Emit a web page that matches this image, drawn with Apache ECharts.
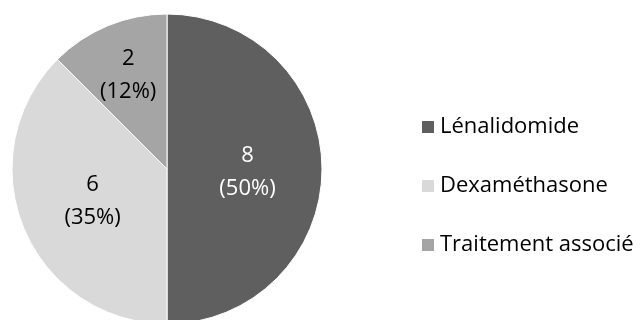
<!DOCTYPE html>
<html>
<head>
<meta charset="utf-8">
<script src="https://cdn.jsdelivr.net/npm/echarts@6/dist/echarts.min.js"></script>
<style>
  html, body { margin: 0; padding: 0; background: #fff; }
  #chart { width: 643px; height: 320px; }
</style>
</head>
<body>
<div id="chart"></div>
<script>
// Treatment breakdown: counts and the percentage captions printed on each slice
const categories = ['Lénalidomide', 'Dexaméthasone', 'Traitement associé'];
const counts = [8, 6, 2];
const percentLabels = ['50%', '35%', '12%'];
const sliceColors = ['#5f5f5f', '#d9d9d9', '#a5a5a5'];
const labelColors = ['#ffffff', '#000000', '#000000'];
const labelOffsets = [[0, 3], [0, 1], [-8, -19]];

const FONT = '"Open Sans", sans-serif';

const chart = echarts.init(document.getElementById('chart'), null, { renderer: 'canvas' });

const data = categories.map((name, i) => ({
  name: name,
  value: counts[i],
  itemStyle: { color: sliceColors[i] },
  label: {
    color: labelColors[i],
    offset: labelOffsets[i],
    formatter: counts[i] + '\n(' + percentLabels[i] + ')'
  }
}));

chart.setOption({
  animation: false,
  backgroundColor: '#ffffff',
  legend: {
    orient: 'vertical',
    left: 415,
    top: 111,
    itemWidth: 14,
    itemHeight: 14,
    itemGap: 37,
    icon: 'rect',
    selectedMode: false,
    textStyle: { fontFamily: FONT, fontSize: 22, lineHeight: 22, color: '#000000' },
    data: categories
  },
  series: [{
    type: 'pie',
    center: [167, 169],
    radius: [0, 155],
    startAngle: 90,
    clockwise: true,
    silent: true,
    itemStyle: { borderColor: '#ffffff', borderWidth: 1 },
    label: {
      show: true,
      position: 'inside',
      fontFamily: FONT,
      fontSize: 22,
      lineHeight: 33,
      align: 'center'
    },
    labelLine: { show: false },
    data: data
  }]
});
</script>
</body>
</html>
